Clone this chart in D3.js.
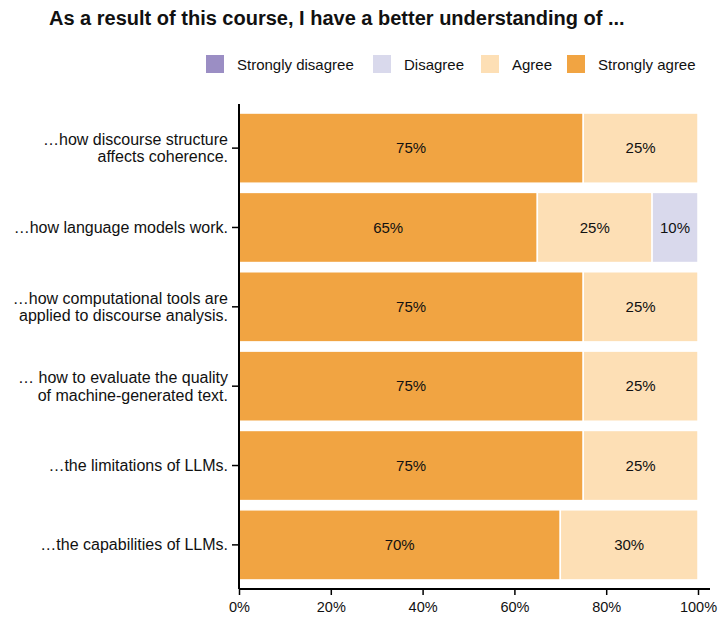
<!DOCTYPE html>
<html>
<head>
<meta charset="utf-8">
<script src="https://cdn.jsdelivr.net/npm/d3@7.9.0/dist/d3.min.js"></script>
<style>
  body { margin: 0; background: #fff; }
  svg { font-family: "Liberation Sans", Arial, sans-serif; }
</style>
</head>
<body>
<svg id="chart" width="720" height="625"></svg>
<script>
// questions, top to bottom (lines split for two-row labels)
const questions = [
  ["…how discourse structure", "affects coherence."],
  ["…how language models work."],
  ["…how computational tools are", "applied to discourse analysis."],
  ["… how to evaluate the quality", "of machine-generated text."],
  ["…the limitations of LLMs."],
  ["…the capabilities of LLMs."]
];
const stronglyAgree    = [75, 65, 75, 75, 75, 70];
const agree            = [25, 25, 25, 25, 25, 30];
const disagree         = [0, 10, 0, 0, 0, 0];
const stronglyDisagree = [0, 0, 0, 0, 0, 0];

const legendLabels = ["Strongly disagree", "Disagree", "Agree", "Strongly agree"];
const xTicks = [0, 20, 40, 60, 80, 100];

const colors = {
  "Strongly disagree": "#9b8ec4",
  "Disagree": "#d9d9ec",
  "Agree": "#fddfb5",
  "Strongly agree": "#f1a442"
};

const svg = d3.select("#chart");
const margin = { top: 104, left: 239, right: 22, bottom: 36 };
const width = 698 - margin.left;
const height = 589 - margin.top;

const g = svg.append("g").attr("transform", `translate(${margin.left},${margin.top})`);

const x = d3.scaleLinear().domain([0, 100]).range([0, width]);
const y = d3.scaleBand().domain(d3.range(questions.length)).range([0, height]).paddingInner(0.116).paddingOuter(0.114);

// build stacked rows: strongly agree first from the left
const order = ["Strongly agree", "Agree", "Disagree", "Strongly disagree"];
const seriesVals = {
  "Strongly agree": stronglyAgree,
  "Agree": agree,
  "Disagree": disagree,
  "Strongly disagree": stronglyDisagree
};
const rows = questions.map((q, i) => {
  const r = { idx: i };
  order.forEach(k => r[k] = seriesVals[k][i]);
  return r;
});
const stacked = d3.stack().keys(order)(rows);

stacked.forEach(layer => {
  const lg = g.append("g");
  lg.selectAll("rect")
    .data(layer.filter(d => d[1] - d[0] > 0))
    .enter().append("rect")
      .attr("x", d => x(d[0]))
      .attr("y", d => y(d.data.idx))
      .attr("width", d => x(d[1]) - x(d[0]))
      .attr("height", y.bandwidth())
      .attr("fill", colors[layer.key])
      .attr("stroke", "#fff")
      .attr("stroke-width", 1.5);
  lg.selectAll("text")
    .data(layer.filter(d => d[1] - d[0] > 0))
    .enter().append("text")
      .attr("x", d => x((d[0] + d[1]) / 2))
      .attr("y", d => y(d.data.idx) + y.bandwidth() / 2)
      .attr("dy", "0.35em")
      .attr("text-anchor", "middle")
      .attr("font-size", "15px")
      .attr("fill", "#111")
      .text(d => `${d[1] - d[0]}%`);
});

// x axis
const xAxis = g.append("g")
  .attr("transform", `translate(0,${height})`)
  .call(d3.axisBottom(x).tickValues(xTicks).tickFormat(d => d + "%").tickSize(6).tickSizeOuter(0));
xAxis.select(".domain").attr("stroke-width", 2).attr("d", `M0,0H${width + 12}`);
xAxis.selectAll(".tick line").attr("stroke-width", 1.5);
xAxis.selectAll("text").attr("font-size", "14.5px").attr("fill", "#111").attr("dy", "0.95em")
  .attr("font-family", "Liberation Sans, Arial, sans-serif");

// y axis
const yAxis = g.append("g")
  .call(d3.axisLeft(y).tickSize(7).tickSizeOuter(0).tickFormat(""));
yAxis.select(".domain").attr("stroke-width", 2).attr("d", `M0,0V${height}`);
yAxis.selectAll(".tick line").attr("stroke-width", 1.5);
yAxis.selectAll(".tick").each(function(i) {
  const lines = questions[i];
  const t = d3.select(this).append("text")
    .attr("x", -11)
    .attr("text-anchor", "end")
    .attr("font-size", "16px")
    .attr("fill", "#111")
    .attr("font-family", "Liberation Sans, Arial, sans-serif");
  lines.forEach((ln, j) => {
    t.append("tspan")
      .attr("x", -11)
      .attr("y", (j - (lines.length - 1) / 2) * 17.5)
      .attr("dy", "0.35em")
      .text(ln);
  });
});

// title
svg.append("text")
  .attr("x", 49)
  .attr("y", 25)
  .attr("font-size", "20px")
  .attr("font-weight", "bold")
  .attr("fill", "#111")
  .text("As a result of this course, I have a better understanding of ...");

// legend
const legendX = [206, 373, 481, 567];
const legend = svg.append("g").attr("transform", "translate(0,55)");
legendLabels.forEach((lab, i) => {
  const lg = legend.append("g").attr("transform", `translate(${legendX[i]},0)`);
  lg.append("rect").attr("width", 18).attr("height", 18).attr("fill", colors[lab]);
  lg.append("text").attr("x", 31).attr("y", 14.5)
    .attr("font-size", "15px").attr("fill", "#111").text(lab);
});
</script>
</body>
</html>
